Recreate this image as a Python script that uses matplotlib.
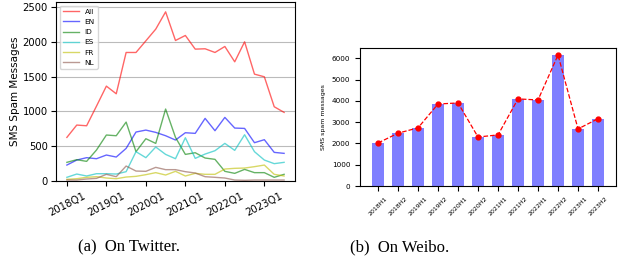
import matplotlib
matplotlib.use("Agg")
import matplotlib.pyplot as plt

# (a) Twitter, quarterly counts 2018Q1 .. 2023Q3
quarters = [f"{y}Q{q}" for y in range(2018, 2024) for q in range(1, 5)][:23]
tw_all = [626, 803, 793, 1075, 1362, 1252, 1845, 1845, 2012, 2180, 2428, 2017,
          2089, 1893, 1898, 1845, 1931, 1711, 1998, 1534, 1496, 1066, 985]
tw_en = [229, 301, 335, 320, 373, 344, 468, 703, 731, 698, 650, 588,
         693, 684, 899, 722, 913, 760, 755, 550, 593, 411, 397]
tw_id = [268, 306, 282, 445, 660, 650, 846, 421, 607, 540, 1033, 626,
         382, 406, 330, 311, 139, 110, 167, 120, 120, 53, 96]
tw_es = [53, 100, 72, 105, 105, 100, 134, 421, 335, 488, 382, 320,
         621, 325, 387, 435, 540, 440, 664, 421, 301, 249, 268]
tw_fr = [24, 33, 53, 62, 43, 33, 57, 67, 91, 120, 86, 139,
         72, 110, 96, 96, 172, 182, 186, 206, 229, 96, 72]
tw_nl = [14, 14, 29, 38, 96, 62, 215, 143, 139, 196, 163, 163,
         134, 115, 62, 53, 43, 14, 10, 14, 14, 14, 14]

# (b) Weibo, half-year counts
halves = ["2018H1", "2018H2", "2019H1", "2019H2", "2020H1", "2020H2",
          "2021H1", "2021H2", "2022H1", "2022H2", "2023H1", "2023H2"]
wb_counts = [2020, 2480, 2730, 3850, 3900, 2300, 2400, 4090, 4040, 6150, 2680, 3160]

fig = plt.figure(figsize=(6.19, 2.58), dpi=100)

ax1 = fig.add_axes([0.0905, 0.2984, 0.386, 0.694])
x = list(range(len(quarters)))
series = [("All", tw_all, "red"), ("EN", tw_en, "blue"), ("ID", tw_id, "green"),
          ("ES", tw_es, "c"), ("FR", tw_fr, "y"), ("NL", tw_nl, "tab:brown")]
for name, vals, col in series:
    ax1.plot(x, vals, color=col, alpha=0.6, lw=1.0, label=name)
ax1.set_xlim(-1.1, 23.1)
ax1.set_ylim(0, 2570)
ax1.set_yticks([0, 500, 1000, 1500, 2000, 2500])
ax1.set_xticks(x[::4])
ax1.set_xticklabels(quarters[::4], rotation=27, fontsize=7.3)
ax1.tick_params(axis="y", labelsize=7.2, pad=2.5)
ax1.set_ylabel("SMS Spam Messages", fontsize=7.5, labelpad=2)
ax1.grid(axis="y", color="#bbbbbb", lw=0.8)
ax1.legend(loc="upper left", fontsize=5.3, handlelength=2.2, labelspacing=0.55,
           borderpad=0.4)

ax2 = fig.add_axes([0.5816, 0.279, 0.4136, 0.535])
xb = list(range(len(halves)))
ax2.bar(xb, wb_counts, width=0.6, color="blue", alpha=0.5)
ax2.plot(xb, wb_counts, "o--", color="red", ms=3.5, lw=0.9)
ax2.set_xlim(-0.9, 11.9)
ax2.set_ylim(0, 6480)
ax2.set_xticks(xb)
ax2.set_xticklabels(halves, rotation=45, fontsize=4.5)
ax2.tick_params(axis="y", labelsize=5.2)
ax2.set_ylabel("SMS spam messages", fontsize=4.5)

fig.text(0.208, 0.043, "(a)  On Twitter.", ha="center", va="center",
         family="Liberation Serif", fontsize=12)
fig.text(0.646, 0.043, "(b)  On Weibo.", ha="center", va="center",
         family="Liberation Serif", fontsize=12)

fig.savefig("out.png", dpi=100)
